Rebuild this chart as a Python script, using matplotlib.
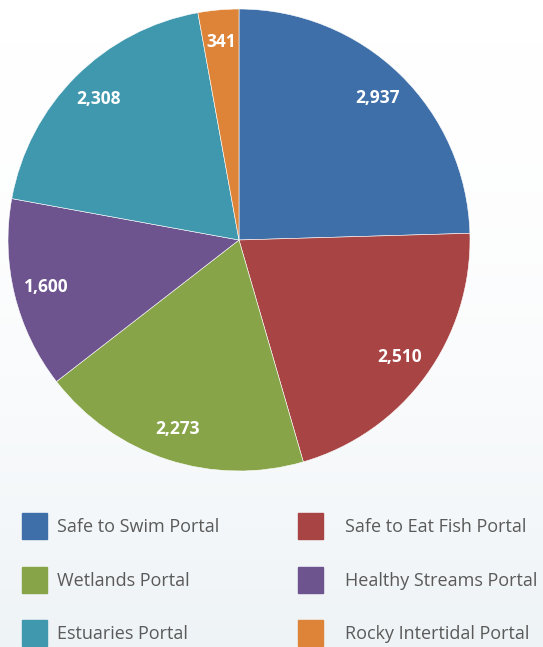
import matplotlib.pyplot as plt
import numpy as np

labels = ['Safe to Swim Portal', 'Safe to Eat Fish Portal', 'Wetlands Portal',
          'Healthy Streams Portal', 'Estuaries Portal', 'Rocky Intertidal Portal']
values = [2937, 2510, 2273, 1600, 2308, 341]
colors = ['#3f6fa8', '#a84444', '#87a448', '#6e548f', '#3f98ae', '#dd8438']

W, H = 543, 647
fig = plt.figure(figsize=(W / 100, H / 100), dpi=100)

# faint background wash
bg = fig.add_axes([0, 0, 1, 1])
grad = np.linspace(0, 1, 200)[:, None] ** 2
bg.imshow(grad, cmap=plt.matplotlib.colors.LinearSegmentedColormap.from_list(
    'bg', ['#ffffff', '#eef3f6']), aspect='auto', extent=[0, 1, 0, 1], origin='upper')
bg.set_axis_off()

cx, cy, r = 239, 240, 231
ax = fig.add_axes([(cx - r) / W, 1 - (cy + r) / H, 2 * r / W, 2 * r / H])
wedges, texts = ax.pie(values, colors=colors, startangle=90, counterclock=False,
                       labels=[f'{v:,}' for v in values], labeldistance=0.86,
                       wedgeprops=dict(edgecolor='#ffffff', linewidth=0.4),
                       textprops=dict(color='white', fontweight='bold', fontsize=12.5,
                                      family='Open Sans'))
for t in texts:
    t.set_horizontalalignment('center')
    t.set_verticalalignment('center')
ax.set_xlim(-1, 1)
ax.set_ylim(-1, 1)
ax.set_aspect('equal')

# legend
rows = [526, 580, 633]
cols = [(22, 57), (298, 345)]
for i, (lab, col) in enumerate(zip(labels, colors)):
    sx, tx = cols[i % 2]
    y = rows[i // 2]
    fig.patches.append(plt.Rectangle((sx / W, 1 - (y + 13) / H), 25 / W, 26 / H,
                                     transform=fig.transFigure, color=col))
    fig.text(tx / W, 1 - (y + 1) / H, lab, fontsize=13, color='#5a5a5a',
             family='Open Sans', va='center', ha='left')

fig.savefig('out.png', dpi=100)
